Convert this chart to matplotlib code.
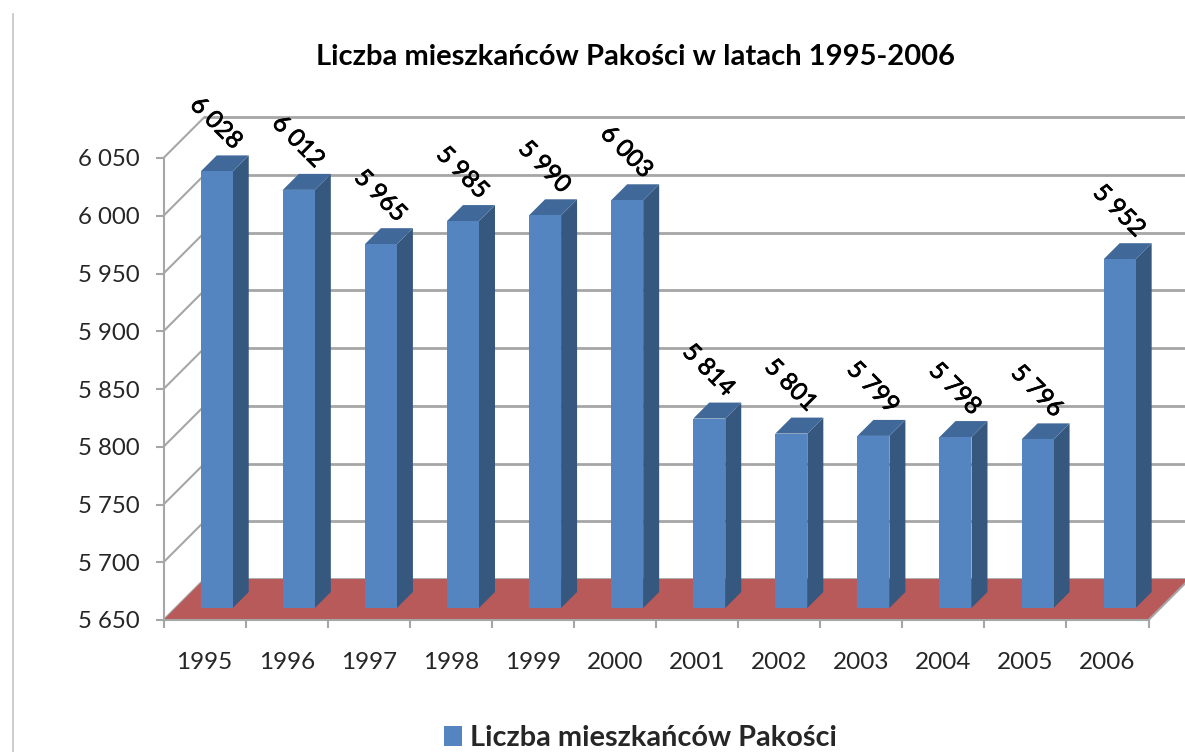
import matplotlib
matplotlib.use('Agg')
import matplotlib.pyplot as plt
import matplotlib.patheffects as pe
import numpy as np

years = ['1995', '1996', '1997', '1998', '1999', '2000',
         '2001', '2002', '2003', '2004', '2005', '2006']
values = [6028, 6012, 5965, 5985, 5990, 6003,
          5814, 5801, 5799, 5798, 5796, 5952]
y_ticks = [5650, 5700, 5750, 5800, 5850, 5900, 5950, 6000, 6050]
y_labels = ['5 650', '5 700', '5 750', '5 800', '5 850', '5 900', '5 950', '6 000', '6 050']
title = 'Liczba mieszkańców Pakości w latach 1995-2006'
series_name = 'Liczba mieszkańców Pakości'

plt.rcParams['font.family'] = ['Lato', 'DejaVu Sans']

W, H = 1185, 752
fig = plt.figure(figsize=(W / 100, H / 100), dpi=100)
# front plane of the fake 3D box: x 163-1148 px, y 158-620 px
ax = fig.add_axes([163.5 / W, 1 - 620 / H, 985 / W, 462 / H])

# pixel sizes converted to data units
px_x = 12 / 985
px_y = 400 / 462
wall_dx, wall_dy = 41 * px_x, 41 * px_y
bar_dx, bar_dy = 16 * px_x, 16 * px_y
base_dy = 12 * px_y
bar_w = 32 * px_x
shift_x = 12.2 * px_x

grid_c = '#a6a6a6'
front_c = '#5485c1'
side_c = '#36587f'
top_c = '#40699a'
floor_c = '#b95a5a'

# back wall gridlines and the left wall diagonals
for t in y_ticks:
    ax.plot([wall_dx, 12 + wall_dx], [t + wall_dy, t + wall_dy], color=grid_c, lw=2,
            clip_on=False, zorder=1)
    ax.plot([0, wall_dx], [t, t + wall_dy], color=grid_c, lw=1.5, clip_on=False, zorder=1)

# floor
ax.fill([0, 12, 12 + wall_dx, wall_dx], [5650, 5650, 5650 + wall_dy, 5650 + wall_dy],
        color=floor_c, lw=0, clip_on=False, zorder=2)
ax.plot([12, 12 + wall_dx], [5650, 5650 + wall_dy], color=grid_c, lw=1.5, clip_on=False, zorder=2)

# bars with side and top faces
x = np.arange(len(values)) + 0.5 + shift_x
bottom = 5650 + base_dy
ax.bar(x, np.array(values) - 5650, bar_w, bottom=bottom, color=front_c, clip_on=False, zorder=4,
       label=series_name)
for xi, v in zip(x, values):
    top = v + base_dy
    l, r = xi - bar_w / 2, xi + bar_w / 2
    ax.fill([r, r + bar_dx, r + bar_dx, r], [bottom, bottom + bar_dy, top + bar_dy, top],
            color=side_c, lw=0, clip_on=False, zorder=3)
    ax.fill([l, r, r + bar_dx, l + bar_dx], [top, top, top + bar_dy, top + bar_dy],
            color=top_c, lw=0, clip_on=False, zorder=3)
    ax.annotate(f'{v // 1000} {v % 1000:03d}', xy=(xi, top), xycoords='data',
                xytext=(-1, 48), textcoords='offset pixels', rotation=-45,
                ha='center', va='center', fontsize=17.5, color='black',
                annotation_clip=False, zorder=6,
                path_effects=[pe.withStroke(linewidth=0.5, foreground='black')])

ax.set_xlim(0, 12)
ax.set_ylim(5650, 6050)

# axes
for s in ['top', 'right']:
    ax.spines[s].set_visible(False)
for s in ['left', 'bottom']:
    ax.spines[s].set_color(grid_c)
    ax.spines[s].set_linewidth(1.5)
    ax.spines[s].set_zorder(5)
ax.set_yticks(y_ticks)
ax.set_yticklabels(y_labels)
ax.tick_params(axis='y', length=6, width=1.5, color=grid_c, pad=11.5, labelsize=17.3, labelcolor='#262626')
ax.set_xticks(np.arange(13))
ax.set_xticklabels([])
ax.set_xticks(np.arange(12) + 0.5, minor=True)
ax.set_xticklabels(years, minor=True)
ax.tick_params(axis='x', which='major', length=6, width=1.5, color=grid_c)
ax.tick_params(axis='x', which='minor', length=0, pad=23, labelsize=17.5, labelcolor='#262626')

fig.text(636 / W, 1 - 57 / H, title, ha='center', va='center', fontsize=21,
         fontweight='bold', color='black')

handles, labels = ax.get_legend_handles_labels()
ax.legend(handles, labels, loc='center', bbox_to_anchor=(640.5 / W, 1 - 738 / H),
          bbox_transform=fig.transFigure, frameon=False, handlelength=0.65, handleheight=0.7,
          handletextpad=0.28, prop={'size': 20.8, 'weight': 'bold'}, labelcolor='#262626')

# frame remains on the left side of the picture
fig.add_artist(plt.Line2D([12.5 / W, 12.5 / W], [0, 1 - 14 / H], color='#c4c4c4', lw=1.2))

fig.savefig('out.png', dpi=100)
